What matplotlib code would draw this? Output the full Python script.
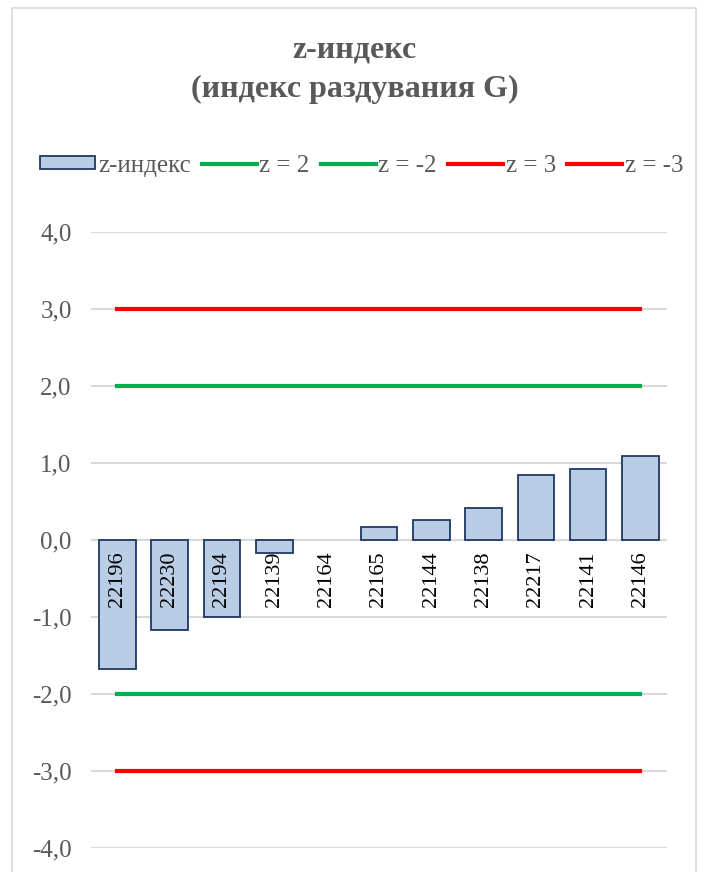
import matplotlib
matplotlib.use("Agg")
import matplotlib.pyplot as plt
from matplotlib.patches import Patch, Rectangle
from matplotlib.lines import Line2D
from matplotlib.ticker import FuncFormatter

plt.rcParams['font.family'] = ['Liberation Serif', 'DejaVu Serif']

# z-index per region code
codes = ['22196', '22230', '22194', '22139', '22164', '22165',
         '22144', '22138', '22217', '22141', '22146']
z_vals = [-1.67, -1.17, -1.0, -0.17, 0.0, 0.17, 0.26, 0.42, 0.84, 0.92, 1.09]
limits = [2, -2, 3, -3]
limit_names = ['z = 2', 'z = -2', 'z = 3', 'z = -3']
limit_colors = ['#00B050', '#00B050', '#FF0000', '#FF0000']

txt = '#595959'
grid = '#D9D9D9'

fig = plt.figure(figsize=(7.01, 8.72), dpi=100)
ax = fig.add_axes([0.13, 0.0275, 0.821, 0.7065])

x = list(range(len(codes)))
bars = ax.bar(x, z_vals, width=0.7, color='#B9CDE5', edgecolor='#1F3864',
              linewidth=1.3, zorder=3)
for b, v in zip(bars, z_vals):
    if v == 0:
        b.set_linewidth(0)
for val, col in zip(limits, limit_colors):
    ax.plot(x, [val] * len(x), color=col, linewidth=3, zorder=4)

for i, c in enumerate(codes):
    ax.annotate(c, (i, 0), xytext=(0, -8), textcoords='offset points',
                rotation=90, ha='center', va='top', fontsize=16,
                color='black', zorder=5)

ax.set_xlim(-0.5, len(codes) - 0.5)
ax.set_ylim(-4, 4)
ax.set_yticks(range(-4, 5))
ax.yaxis.set_major_formatter(FuncFormatter(lambda v, p: f'{v:.1f}'.replace('.', ',')))
ax.tick_params(axis='y', length=0, pad=14, labelsize=18, labelcolor=txt)
ax.set_xticks([])
ax.grid(axis='y', color=grid, linewidth=1.5, zorder=0)
ax.axhline(0, color=grid, linewidth=1.5, zorder=2)
for s in ax.spines.values():
    s.set_visible(False)

fig.text(0.506, 0.943, 'z-индекс', ha='center', va='center',
         fontsize=23, fontweight='bold', color=txt)
fig.text(0.506, 0.897, '(индекс раздувания G)', ha='center', va='center',
         fontsize=23, fontweight='bold', color=txt)

handles = [Patch(facecolor='#B9CDE5', edgecolor='#1F3864', linewidth=1.3)]
handles += [Line2D([], [], color=c, linewidth=3) for c in limit_colors]
labels = ['z-индекс'] + limit_names
fig.legend(handles, labels, loc='center', bbox_to_anchor=(0.516, 0.810),
           ncol=5, frameon=False, fontsize=18, labelcolor=txt,
           handlelength=2.2, handletextpad=0.1, columnspacing=0.45,
           handleheight=0.45)

# outer chart border
fig.patches.append(Rectangle((12 / 701, -0.05), 684 / 701, 1.05 - 8 / 872,
                             transform=fig.transFigure, fill=False,
                             edgecolor=grid, linewidth=1.2))

fig.savefig('out.png', dpi=100)
